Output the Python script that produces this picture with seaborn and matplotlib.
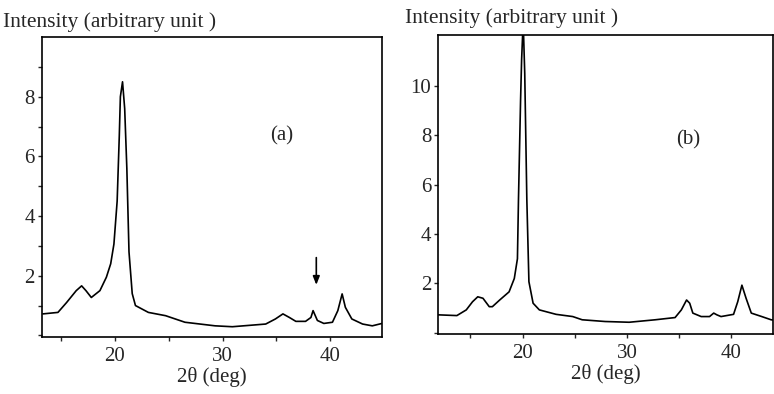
import seaborn as sns, matplotlib.pyplot as plt

# diffraction curve (a)
theta_a = [13.3, 14.7, 15.5, 16.4, 16.9, 17.3, 17.8, 18.6, 19.2, 19.6, 19.9, 20.2, 20.4, 20.5,
           20.7, 20.9, 21.1, 21.3, 21.6, 21.9, 23.1, 24.7, 26.5, 29.3, 30.9, 34.0, 34.9, 35.6,
           36.2, 36.8, 37.7, 38.2, 38.4, 38.8, 39.4, 40.2, 40.7, 41.1, 41.4, 42.0, 43.0, 43.9, 44.8]
inten_a = [0.72, 0.77, 1.1, 1.5, 1.66, 1.5, 1.27, 1.5, 1.95, 2.4, 3.06, 4.5, 6.7, 8.0,
           8.5, 7.6, 5.6, 2.8, 1.4, 1.0, 0.77, 0.66, 0.44, 0.32, 0.29, 0.38, 0.55, 0.72,
           0.6, 0.47, 0.47, 0.6, 0.83, 0.5, 0.4, 0.44, 0.83, 1.39, 0.94, 0.55, 0.38, 0.32, 0.4]

# diffraction curve (b)
theta_b = [11.9, 13.7, 14.6, 15.2, 15.7, 16.2, 16.8, 17.1, 17.8, 18.7, 19.2, 19.5, 19.6, 19.8,
           19.9, 20.05, 20.2, 20.4, 20.6, 21.0, 21.6, 23.2, 24.8, 25.7, 27.9, 30.2, 32.7, 34.6,
           35.2, 35.7, 36.0, 36.3, 37.1, 37.9, 38.3, 38.6, 39.0, 40.2, 40.6, 41.0, 41.4, 41.9,
           42.9, 43.8, 44.5]
inten_b = [0.73, 0.7, 0.93, 1.26, 1.46, 1.4, 1.06, 1.06, 1.33, 1.66, 2.2, 3.0, 5.4, 9.4,
           11.05, 12.6, 10.5, 5.4, 2.07, 1.2, 0.93, 0.75, 0.66, 0.53, 0.46, 0.43, 0.53, 0.62,
           0.93, 1.33, 1.2, 0.8, 0.66, 0.66, 0.8, 0.73, 0.66, 0.75, 1.26, 1.93, 1.4, 0.8,
           0.66, 0.53, 0.5]

sns.set_style('ticks')
plt.rcParams['font.family'] = ['Liberation Serif', 'DejaVu Serif']

fig = plt.figure(figsize=(7.74, 3.94), dpi=100)
ax1 = fig.add_axes([0.054, 0.145, 0.4395, 0.761])
ax2 = fig.add_axes([0.566, 0.152, 0.433, 0.759])

sns.lineplot(x=theta_a, y=inten_a, ax=ax1, color='black', linewidth=1.2)
sns.lineplot(x=theta_b, y=inten_b, ax=ax2, color='black', linewidth=1.2)

ax1.set_xlim(13.2, 44.8)
ax1.set_ylim(-0.05, 10)
ax2.set_xlim(11.9, 44)
ax2.set_ylim(-0.05, 12.05)

for ax in (ax1, ax2):
    ax.set_xticks([15, 20, 25, 30, 35, 40])
    ax.set_xticklabels(['', '20', '', '30', '', '40'])
    for s in ax.spines.values():
        s.set_linewidth(1.2)
        s.set_color('black')
    ax.tick_params(direction='out', length=3, width=1, labelsize=15, pad=2)
    ax.tick_params(axis='x', pad=4)
    ax.set_xlabel('2θ (deg)', fontsize=15, labelpad=1)
    ax.set_ylabel('')

ax1.set_yticks([0, 1, 2, 3, 4, 5, 6, 7, 8, 9])
ax1.set_yticklabels(['', '', '2', '', '4', '', '6', '', '8', ''])
ax2.set_yticks([0, 2, 4, 6, 8, 10])
ax2.set_yticklabels(['', '2', '4', '6', '8', '10'])

ax1.text(35.5, 6.7, '(a)', fontsize=15, ha='center', va='center')
ax2.text(35.9, 7.8, '(b)', fontsize=15, ha='center', va='center')
ax1.annotate('', xy=(38.7, 1.6), xytext=(38.7, 2.7),
             arrowprops=dict(arrowstyle='-|>,head_length=0.5,head_width=0.2',
                             color='black', lw=1.2))

fig.text(0.004, 0.944, 'Intensity (arbitrary unit )', fontsize=15.5, ha='left', va='center')
fig.text(0.523, 0.954, 'Intensity (arbitrary unit )', fontsize=15.5, ha='left', va='center')

plt.savefig('out.png', dpi=100)
